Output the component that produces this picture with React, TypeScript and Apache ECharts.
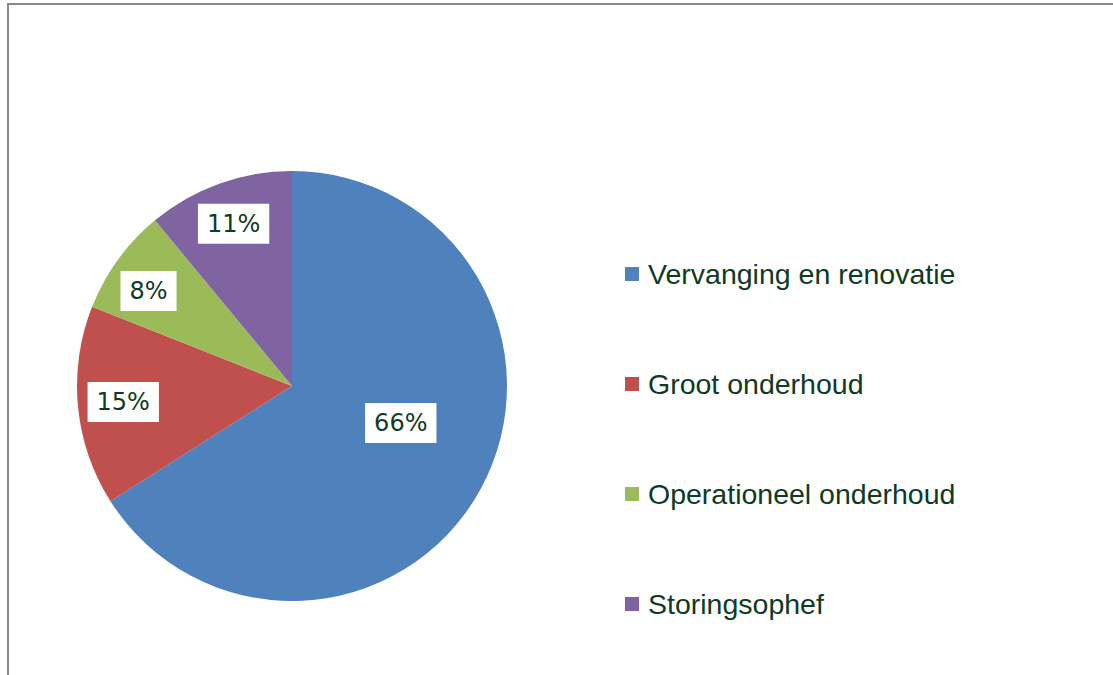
import React, { useEffect, useRef } from "react";
import * as echarts from "echarts";

const categories = [
  "Vervanging en renovatie",
  "Groot onderhoud",
  "Operationeel onderhoud",
  "Storingsophef",
];
const shares = [66, 15, 8, 11];
const colors = ["#4f81bd", "#c0504d", "#9bbb59", "#8064a2"];

// label placement tweaks (radius factor relative to default inside position, angle shift in degrees)
const labelRadiusFactor = [1.04, 1.534, 1.557, 1.56];
const labelAngleShift = [-10, 0, -2.5, 0];

const CX = 292;
const CY = 386;
const R = 215;
const TEXT_COLOR = "#0f3a24";

export default function App() {
  const ref = useRef<HTMLDivElement>(null);
  useEffect(() => {
    if (!ref.current) return;
    const chart = echarts.init(ref.current, null, { renderer: "svg" });
    chart.setOption({
      animation: false,
      backgroundColor: "#ffffff",
      graphic: [
        {
          type: "rect",
          shape: { x: 8, y: 4, width: 1300, height: 900 },
          style: { fill: "none", stroke: "#8a8a8a", lineWidth: 2 },
          silent: true,
        },
      ],
      legend: {
        orient: "vertical",
        left: 625,
        top: 259,
        padding: 0,
        itemWidth: 14,
        itemHeight: 14,
        itemGap: 80,
        icon: "rect",
        selectedMode: false,
        data: categories,
        textStyle: {
          fontFamily: "Liberation Sans",
          fontSize: 28.5,
          color: TEXT_COLOR,
          lineHeight: 30,
          padding: [0, 0, 0, 4],
        },
      },
      series: [
        {
          type: "pie",
          center: [CX, CY],
          radius: R,
          startAngle: 90,
          clockwise: true,
          silent: true,
          color: colors,
          data: categories.map((name, i) => ({ name, value: shares[i] })),
          label: {
            show: true,
            position: "inside",
            formatter: (p: any) => p.value + "%",
            fontFamily: "DejaVu Sans",
            fontSize: 24,
            lineHeight: 24,
            color: TEXT_COLOR,
            backgroundColor: "#ffffff",
            padding: [8, 9, 8, 9],
          },
          labelLine: { show: false },
          labelLayout: (p: any) => {
            const i = p.dataIndex;
            const r = p.labelRect;
            const lx = r.x + r.width / 2 - CX;
            const ly = r.y + r.height / 2 - CY;
            const d = Math.sqrt(lx * lx + ly * ly) * labelRadiusFactor[i];
            const a = Math.atan2(ly, lx) + (labelAngleShift[i] * Math.PI) / 180;
            return { x: CX + d * Math.cos(a), y: CY + d * Math.sin(a) };
          },
          emphasis: { disabled: true },
        },
      ],
    });
    return () => chart.dispose();
  }, []);
  return (
    <div
      ref={ref}
      style={{ position: "fixed", left: 0, top: 0, width: 1113, height: 675 }}
    />
  );
}
